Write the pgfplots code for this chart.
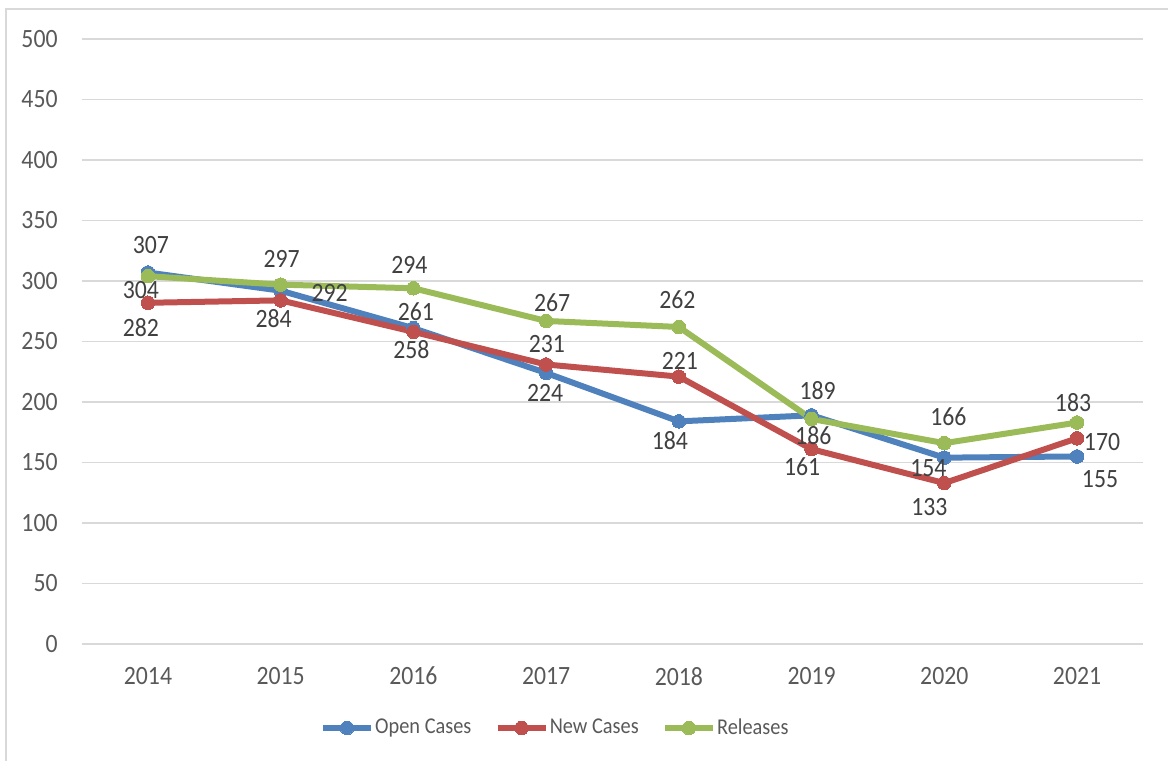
\documentclass[border=0pt]{standalone}
\usepackage{pgfplots}
\pgfplotsset{compat=1.18}
\usepackage{pgfplotstable}
\usepackage{fontspec}
\setmainfont{Carlito}[FakeStretch=0.9]
\definecolor{cblue}{HTML}{4F81BD}
\definecolor{cred}{HTML}{C0504D}
\definecolor{cgreen}{HTML}{9BBB59}
\definecolor{gridc}{HTML}{D9D9D9}
\definecolor{tickc}{HTML}{595959}
\definecolor{labc}{HTML}{404040}

\pgfplotstableread{
x y dx dy
0 307 1.5 13.75
1 292 24.5 -1
2 261 1.25 8.5
3 224 -0.5 -10
4 184 -4.5 -9.5
5 189 3 12.5
6 154 -8 -5
7 155 11.5 -11.5
}\openT

\pgfplotstableread{
x y dx dy
0 282 -3.5 -12.5
1 284 -3.5 -9
2 258 -1 -9
3 231 0.35 10
4 221 0.5 8
5 161 -4.75 -8.5
6 133 -7.5 -12
7 170 12.5 -2
}\newT

\pgfplotstableread{
x y dx dy
0 304 -3.5 -7
1 297 0.5 13
2 294 -2 11.5
3 267 3 9
4 262 -0.75 13.75
5 186 0.85 -8.25
6 166 2 13
7 183 -2 10
}\relT

\pgfplotsset{
  serie/.style={#1, line width=3bp, mark=*, mark size=3.4bp,
    mark options={solid, fill=#1, draw=#1, line width=0bp}},
  labs/.style={draw=none, mark=none, forget plot, nodes near coords,
    visualization depends on={\thisrow{dx}\as\dx},
    visualization depends on={\thisrow{dy}\as\dy},
    every node near coord/.append style={anchor=center, inner sep=0pt,
      xshift=\dx bp, yshift=\dy bp,
      font=\fontsize{13.2bp}{15bp}\selectfont, text=labc}},
}

\begin{document}
\begin{tikzpicture}
\draw[gridc, line width=0.75bp] (-37.8bp,-58.5bp) -- (-37.8bp,317.5bp) -- (543.2bp,317.5bp);
\begin{axis}[
  at={(0,0)}, anchor=south west,
  scale only axis, width=530.9bp, height=302.5bp,
  xmin=-0.5, xmax=7.5, ymin=0, ymax=500,
  xtick={0,...,7}, xticklabels={2014,2015,2016,2017,2018,2019,2020,2021},
  ytick={0,50,...,500},
  axis line style={draw=none},
  major tick length=0pt, tick style={draw=none},
  ymajorgrids, grid style={draw=gridc, line width=0.75bp},
  /pgf/number format/assume math mode=true,
  ticklabel style={font=\fontsize{13.2bp}{15bp}\selectfont, text=tickc, inner sep=0pt},
  yticklabel style={anchor=east, xshift=-11.8bp},
  xticklabel style={anchor=north, yshift=-11.3bp},
  clip=false,
  legend columns=3,
  legend cell align=left,
  legend image code/.code={\draw[#1, mark repeat=2, mark phase=2] plot coordinates {(0bp,0bp)(12bp,0bp)(24bp,0bp)};},
  legend style={at={(axis description cs:0.4457,-0.1388)}, anchor=center,
    draw=none, fill=none, inner sep=0pt,
    font=\fontsize{11.3bp}{13bp}\selectfont, text=tickc,
    nodes={inner sep=0.6bp},
    /tikz/every even column/.append style={column sep=11bp}},
]
\addplot[serie=cblue] table[x=x,y=y]{\openT};
\addlegendentry{Open Cases}
\addplot[serie=cred] table[x=x,y=y]{\newT};
\addlegendentry{New Cases}
\addplot[serie=cgreen] table[x=x,y=y]{\relT};
\addlegendentry{Releases}
\addplot[labs] table[x=x,y=y]{\openT};
\addplot[labs] table[x=x,y=y]{\newT};
\addplot[labs] table[x=x,y=y]{\relT};
\end{axis}
\pgfresetboundingbox
\path[use as bounding box] (-40.8bp,-58.5bp) rectangle (543.2bp,322bp);
\end{tikzpicture}
\end{document}
